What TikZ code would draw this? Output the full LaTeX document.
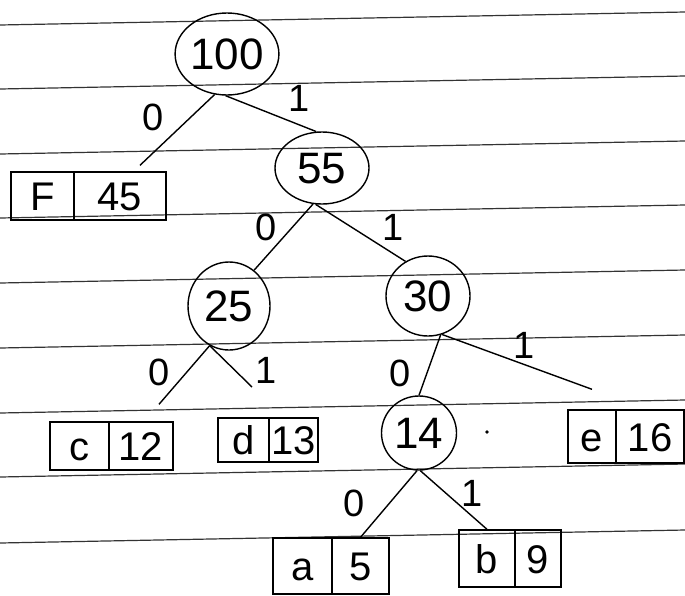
\documentclass[tikz,border=0pt]{standalone}
\usepackage{fontspec}
\setmainfont{Liberation Sans}
\usetikzlibrary{shapes.geometric,calc}
\begin{document}
\begin{tikzpicture}[x=1pt,y=-1pt,
  ruled/.style={black!80,line width=1.2pt},
  ell/.style={ellipse,draw,line width=1.4pt,inner sep=0pt,text height=31pt,text depth=0pt,font=\fontsize{44}{46}\selectfont},
  cell/.style={rectangle,draw,line width=1.4pt,inner sep=0pt,text height=29pt,text depth=0pt,font=\fontsize{40}{42}\selectfont},
  edge/.style={line width=1.4pt},
  bit/.style={inner sep=0pt,font=\fontsize{38}{40}\selectfont}]
\useasboundingbox[fill=white] (0,0) rectangle (685,595);
% ruled paper
\foreach \y in {25,89,154,218,283,348,413,477,543}
  \draw[ruled] (0,\y) -- (685,\y-13);
% internal nodes
\node[ell,minimum width=96pt,minimum height=82pt] (n100) at (227,54) {100};
\node[ell,minimum width=94pt,minimum height=72pt] (n55) at (322,168) {55};
\node[ell,minimum width=82pt,minimum height=88pt] (n25) at (229,306) {25};
\node[ell,minimum width=84pt,minimum height=80pt] (n30) at (428,296) {30};
\node[ell,minimum width=75pt,minimum height=74pt] (n14) at (419,433) {14};
% leaves
\node[cell,minimum width=63pt,minimum height=48pt] (fL) at (42.5,196) {F};
\node[cell,minimum width=92pt,minimum height=48pt] (fR) at (120,196) {45};
\node[cell,minimum width=59pt,minimum height=48pt] (cL) at (79.5,446) {c};
\node[cell,minimum width=64pt,minimum height=48pt] (cR) at (141,446) {12};
\node[cell,minimum width=51pt,minimum height=44pt] (dL) at (243.5,440) {d};
\node[cell,minimum width=49pt,minimum height=44pt] (dR) at (293.5,440) {13};
\node[cell,minimum width=48pt,minimum height=53pt] (eL) at (592,436.5) {e};
\node[cell,minimum width=68pt,minimum height=53pt] (eR) at (650,436.5) {16};
\node[cell,minimum width=59pt,minimum height=56pt] (aL) at (302.5,566) {a};
\node[cell,minimum width=57pt,minimum height=56pt] (aR) at (360.5,566) {5};
\node[cell,minimum width=56pt,minimum height=57pt] (bL) at (487,558.5) {b};
\node[cell,minimum width=46pt,minimum height=57pt] (bR) at (538,558.5) {9};
\coordinate (dtop) at (252,387);
% connectors
\draw[edge] (n100.253) -- ([xshift=20pt,yshift=6pt]fR.north);
\draw[edge] (n100.268) -- (n55.99);
\draw[edge] (n55.256) -- (n25.55);
\draw[edge] (n55.260) -- (n30.123);
\draw[edge] (n25.244) -- ([xshift=18pt,yshift=17pt]cR.north);
\draw[edge] (n25.244) -- (dtop);
\draw[edge] (n30.288) -- (n14.north);
\draw[edge] (n30.290) -- ([yshift=20pt]eL.north);
\draw[edge] (n14.267) -- (aR.north);
\draw[edge] (n14.272) -- (bL.north);
% bit labels
\node[bit] (l1) at (153,117) {0};
\node[bit] (l2) at (299,98) {1};
\node[bit] (l3) at (266,227) {0};
\node[bit] (l4) at (393,227) {1};
\node[bit] (l5) at (159,372) {0};
\node[bit] (l6) at (266,370) {1};
\node[bit] (l7) at (400,373) {0};
\node[bit] (l8) at (524,345) {1};
\node[bit] (l9) at (354,503) {0};
\node[bit] (l10) at (472,493) {1};
\fill (487,432) circle (1.8pt);
\end{tikzpicture}
\end{document}
